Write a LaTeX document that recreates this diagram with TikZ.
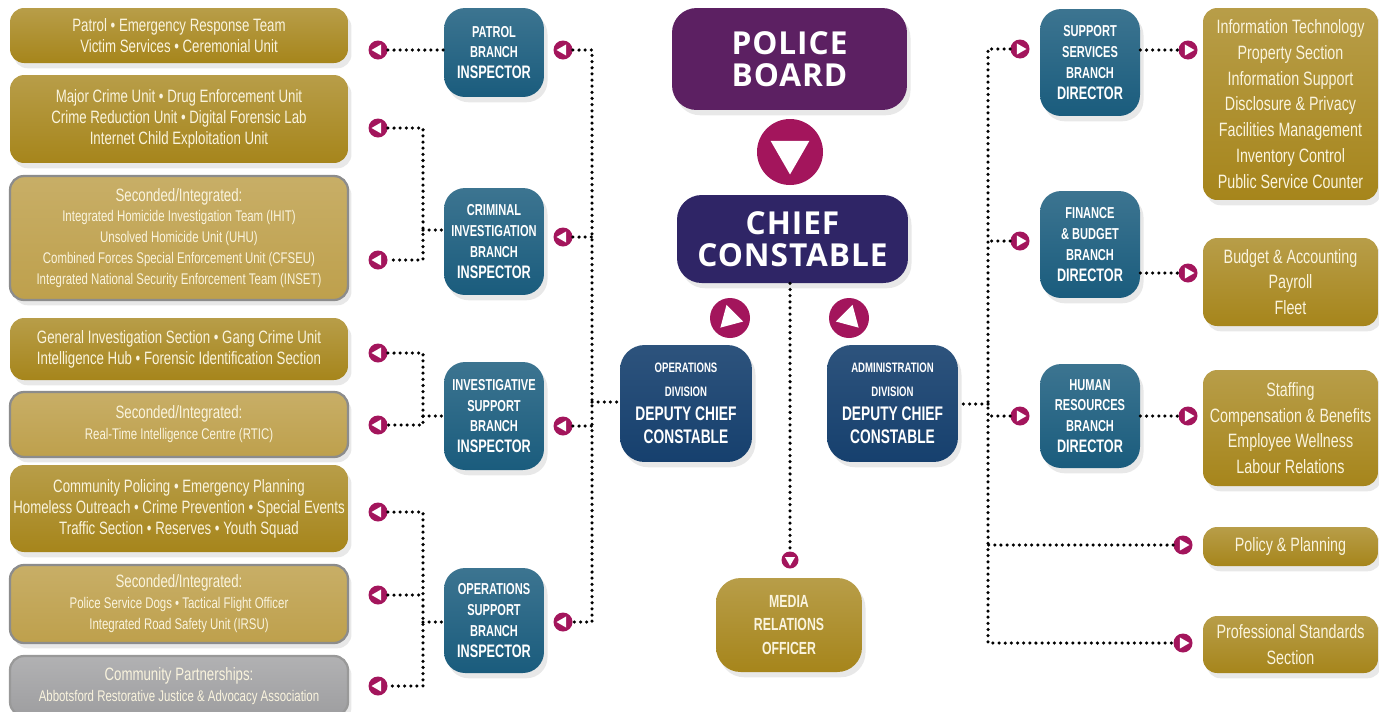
\documentclass[tikz,border=0pt]{standalone}
\usepackage{fontspec}
\setmainfont{Liberation Sans}
\newfontfamily\ncond[FakeStretch=0.74]{Liberation Sans}
\newfontfamily\bcond[FakeStretch=0.70]{Liberation Sans}
\newfontfamily\headfont[LetterSpace=3]{Open Sans}
\usetikzlibrary{shadows}

\definecolor{gold}{RGB}{166,133,27}
\definecolor{paleg}{RGB}{190,160,76}
\definecolor{unitgrey}{RGB}{158,158,160}
\definecolor{cream}{RGB}{250,244,222}
\definecolor{branchblue}{RGB}{26,92,125}
\definecolor{deputyblue}{RGB}{22,64,110}
\definecolor{chiefnavy}{RGB}{47,37,102}
\definecolor{boardpurple}{RGB}{92,32,98}
\definecolor{tipred}{RGB}{163,21,92}

\newcommand\smline{\fontsize{8.8}{11}\selectfont}
\newcommand\bigline{\fontsize{10.3}{12}\selectfont}
\newcommand\tinyline{\fontsize{7.8}{10}\selectfont}

\begin{document}
\begin{tikzpicture}[x=0.02cm,y=-0.02cm,
  boxshadow/.style={drop shadow={shadow xshift=2pt,shadow yshift=-3pt,opacity=.18}},
  unit/.style={boxshadow,rounded corners=8pt,top color=gold!80!white,bottom color=gold,
    text=cream,align=center,inner sep=0pt,minimum width=6.76cm,
    font=\ncond\fontsize{10.2}{11.9}\selectfont},
  second/.style={unit,top color=paleg!85!white,bottom color=paleg,draw=black!45,line width=1.3pt},
  partner/.style={unit,top color=unitgrey!80!white,bottom color=unitgrey,draw=black!40,line width=1.3pt},
  runit/.style={unit,minimum width=3.5cm,font=\ncond\fontsize{11}{14.7}\selectfont},
  branch/.style={boxshadow,rounded corners=12pt,top color=branchblue!85!white,bottom color=branchblue,
    text=white,align=center,inner sep=0pt,minimum width=2cm,
    font=\bcond\bfseries\fontsize{9}{11.8}\selectfont},
  deputy/.style={branch,top color=deputyblue!90!white,bottom color=deputyblue,rounded corners=14pt,
    font=\bcond\bfseries\fontsize{11.2}{13.5}\selectfont},
  mediabox/.style={unit,minimum width=2.92cm,rounded corners=14pt,
    font=\bcond\bfseries\fontsize{10}{13.3}\selectfont},
  head/.style={boxshadow,rounded corners=14pt,text=white,align=center,inner sep=0pt,
    font=\headfont\bfseries\fontsize{18}{18.5}\selectfont},
  dots/.style={line width=2pt,line cap=round,dash pattern=on 0pt off 3.5pt},
  tipc/.style 2 args={circle,fill=tipred,inner sep=0pt,minimum size=#2,
    path picture={\pgfmathsetlengthmacro\tr{0.34*#2}
      \fill[white] ([shift={(#1:\tr)}]path picture bounding box.center)
        -- ([shift={(#1+120:\tr)}]path picture bounding box.center)
        -- ([shift={(#1-120:\tr)}]path picture bounding box.center) -- cycle;}}]

  \useasboundingbox (0,0) rectangle (1379,711);
  \fill[white] (0,0) rectangle (1379,711);

  %% units on the left
  \node[unit,minimum height=1.1cm] (u1) at (179,35.5)
    {Patrol • Emergency Response Team\\Victim Services • Ceremonial Unit};
  \node[unit,minimum height=1.76cm] (u2) at (179,119)
    {Major Crime Unit • Drug Enforcement Unit\\Crime Reduction Unit • Digital Forensic Lab\\Internet Child Exploitation Unit};
  \node[second,minimum height=2.48cm] (u3) at (179,238)
    {Seconded/Integrated:\\\smline Integrated Homicide Investigation Team (IHIT)\\\smline Unsolved Homicide Unit (UHU)\\
     \smline Combined Forces Special Enforcement Unit (CFSEU)\\\smline Integrated National Security Enforcement Team (INSET)};
  \node[unit,minimum height=1.24cm] (u4) at (179,349)
    {General Investigation Section • Gang Crime Unit\\Intelligence Hub • Forensic Identification Section};
  \node[second,minimum height=1.3cm] (u5) at (179,424.5)
    {Seconded/Integrated:\\\smline Real-Time Intelligence Centre (RTIC)};
  \node[unit,minimum height=1.74cm] (u6) at (179,508.5)
    {Community Policing • Emergency Planning\\Homeless Outreach • Crime Prevention • Special Events\\Traffic Section • Reserves • Youth Squad};
  \node[second,minimum height=1.56cm] (u7) at (179,604)
    {Seconded/Integrated:\\\smline Police Service Dogs • Tactical Flight Officer\\\smline Integrated Road Safety Unit (IRSU)};
  \node[partner,minimum height=1.2cm] (u8) at (179,686)
    {Community Partnerships:\\\smline Abbotsford Restorative Justice \& Advocacy Association};

  \node[tipc={180}{0.38cm}] (a1) at (378,50) {};
  \node[tipc={180}{0.38cm}] (a2) at (378,128) {};
  \node[tipc={180}{0.38cm}] (a3) at (378,260) {};
  \node[tipc={180}{0.38cm}] (a4) at (378,353) {};
  \node[tipc={180}{0.38cm}] (a5) at (378,425) {};
  \node[tipc={180}{0.38cm}] (a6) at (378,512) {};
  \node[tipc={180}{0.38cm}] (a7) at (378,595) {};
  \node[tipc={180}{0.38cm}] (a8) at (378,686) {};

  %% branch inspectors
  \node[branch,minimum height=1.78cm] (patrol) at (494,52.5) {PATROL\\BRANCH\\\bigline INSPECTOR};
  \node[branch,minimum height=2.14cm] (crim) at (494,241.5) {CRIMINAL\\INVESTIGATION\\BRANCH\\\bigline INSPECTOR};
  \node[branch,minimum height=2.16cm] (invsup) at (494,416) {INVESTIGATIVE\\SUPPORT\\BRANCH\\\bigline INSPECTOR};
  \node[branch,minimum height=2.1cm] (opsup) at (494,620.5) {OPERATIONS\\SUPPORT\\BRANCH\\\bigline INSPECTOR};

  \node[tipc={180}{0.38cm}] (b1) at (563,50) {};
  \node[tipc={180}{0.38cm}] (b2) at (563,237) {};
  \node[tipc={180}{0.38cm}] (b3) at (563,426) {};
  \node[tipc={180}{0.38cm}] (b4) at (563,622) {};

  %% centre column
  \node[head,fill=boardpurple,minimum width=4.7cm,minimum height=2.04cm] (pb) at (789.5,59) {POLICE\\BOARD};
  \node[tipc={-90}{1.32cm}] (pbtip) at (790,152) {};
  \node[head,fill=chiefnavy,minimum width=4.62cm,minimum height=1.76cm] (cc) at (792.5,239) {CHIEF\\CONSTABLE};
  \node[tipc={-15}{0.8cm}] (optip) at (730,318) {};
  \node[tipc={195}{0.8cm}] (admtip) at (849,318) {};
  \node[deputy,minimum width=2.64cm,minimum height=2.34cm] (opsdcc) at (686,403.5)
    {\tinyline OPERATIONS\\\tinyline DIVISION\\DEPUTY CHIEF\\CONSTABLE};
  \node[deputy,minimum width=2.62cm,minimum height=2.34cm] (admdcc) at (892.5,403.5)
    {\tinyline ADMINISTRATION\\\tinyline DIVISION\\DEPUTY CHIEF\\CONSTABLE};
  \node[tipc={-90}{0.34cm}] (mtip) at (790,560) {};
  \node[mediabox,minimum height=1.88cm] (media) at (789,625) {MEDIA\\RELATIONS\\OFFICER};

  %% branch directors
  \node[tipc={0}{0.38cm}] (d1) at (1020,49) {};
  \node[tipc={0}{0.38cm}] (d2) at (1020,241) {};
  \node[tipc={0}{0.38cm}] (d3) at (1020,416) {};
  \node[tipc={0}{0.38cm}] (d4) at (1183,545) {};
  \node[tipc={0}{0.38cm}] (d5) at (1183,643) {};

  \node[branch,minimum height=2.14cm] (ssd) at (1090,62.5) {SUPPORT\\SERVICES\\BRANCH\\\bigline DIRECTOR};
  \node[branch,minimum height=2.14cm] (fin) at (1090,244.5) {FINANCE\\\& BUDGET\\BRANCH\\\bigline DIRECTOR};
  \node[branch,minimum height=2.08cm] (hr) at (1090,416) {HUMAN\\RESOURCES\\BRANCH\\\bigline DIRECTOR};

  \node[tipc={0}{0.38cm}] (e1) at (1188,50) {};
  \node[tipc={0}{0.38cm}] (e2) at (1188,273) {};
  \node[tipc={0}{0.38cm}] (e3) at (1188,416) {};

  %% units on the right
  \node[runit,minimum height=3.84cm] (r1) at (1290.5,104)
    {Information Technology\\Property Section\\Information Support\\Disclosure \& Privacy\\Facilities Management\\Inventory Control\\Public Service Counter};
  \node[runit,minimum height=1.76cm] (r2) at (1290.5,282) {Budget \& Accounting\\Payroll\\Fleet};
  \node[runit,minimum height=2.32cm] (r3) at (1290.5,428)
    {Staffing\\Compensation \& Benefits\\Employee Wellness\\Labour Relations};
  \node[runit,minimum height=0.78cm] (r4) at (1290.5,546.5) {Policy \& Planning};
  \node[runit,minimum height=1.14cm] (r5) at (1290.5,644.5) {Professional Standards\\Section};

  %% dotted connectors
  \coordinate (jcrim) at (423,230);
  \coordinate (jinv) at (423,416);
  \coordinate (jops) at (423,622);
  \coordinate (jleft) at (592,402);
  \coordinate (jright) at (988,404);

  \draw[dots] (a1) -- (a1 -| patrol.west);
  \draw[dots] (a2) -| (jcrim) |- (a3);
  \draw[dots] (jcrim) -- (jcrim -| crim.west);
  \draw[dots] (a4) -| (jinv) |- (a5);
  \draw[dots] (jinv) -- (jinv -| invsup.west);
  \draw[dots] (a6) -| (jops) |- (a8);
  \draw[dots] (a7) -- (a7 -| jops);
  \draw[dots] (jops) -- (jops -| opsup.west);

  \draw[dots] (b1) -| (jleft) |- (b4);
  \draw[dots] (b2) -- (b2 -| jleft);
  \draw[dots] (b3) -- (b3 -| jleft);
  \draw[dots] (jleft) -- (jleft -| opsdcc.west);

  \draw[dots] (mtip |- cc.south) -- (mtip);

  \draw[dots] (d1) -| (jright) |- (d5);
  \draw[dots] (d2) -- (d2 -| jright);
  \draw[dots] (d3) -- (d3 -| jright);
  \draw[dots] (d4) -- (d4 -| jright);
  \draw[dots] (jright) -- (jright -| admdcc.east);

  \draw[dots] (ssd.east |- e1) -- (e1);
  \draw[dots] (fin.east |- e2) -- (e2);
  \draw[dots] (hr.east |- e3) -- (e3);
\end{tikzpicture}
\end{document}
